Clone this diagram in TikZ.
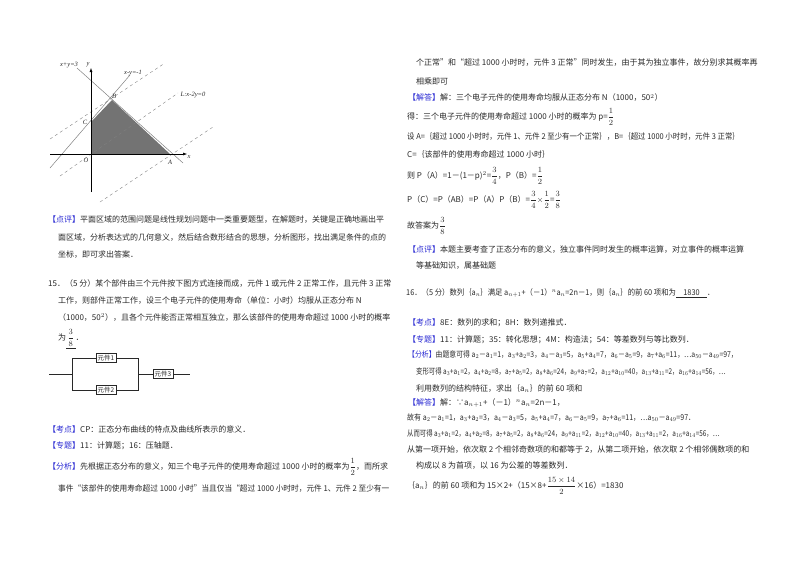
\documentclass[tikz,border=0pt]{standalone}
\usepackage{fontspec}
\usepackage{amsmath}
\setmainfont{Noto Sans CJK SC}
\newfontfamily\serf{Liberation Serif}
\usetikzlibrary{arrows.meta}
\definecolor{tagblue}{RGB}{40,40,210}
\definecolor{txt}{RGB}{40,40,40}
\newcommand{\tg}[1]{\textcolor{tagblue}{【#1】}}
\newcommand{\fr}[2]{$\dfrac{#1}{#2}$}
\begin{document}
\begin{tikzpicture}[x=1pt,y=-1pt,
  t/.style={anchor=west,inner sep=0pt,font=\fontsize{8}{10}\selectfont,text=txt},
  nar/.style={xscale=#1,transform shape},
  lbl/.style={inner sep=0pt,font=\serf\itshape\fontsize{6.5}{7}\selectfont,text=txt},
  comp/.style={draw=txt,inner sep=1.5pt,font=\fontsize{6.5}{7}\selectfont,text=txt,minimum height=9pt},
  wire/.style={draw=txt,line width=0.5pt},
  dsh/.style={draw=gray,dashed,line width=0.4pt}]
\path[use as bounding box] (0,0) rectangle (800,565);
% graph
\fill[black!55] (91,154) coordinate (O) -- (91,122) coordinate (C) -- (112,100) coordinate (B) -- (170,154) coordinate (A) -- cycle;
\draw[dsh] (50,139) -- (165,63);
\draw[dsh] (60,176) -- (178,93);
\draw[dsh] (100,202) -- (213,127);
\draw[gray,line width=0.5pt] (77,68) -- (183,163);
\draw[gray,line width=0.5pt] (50,168) -- (130,75);
\draw[-{Latex[length=4pt]},line width=0.5pt] (91,192) -- (91,68);
\draw[-{Latex[length=4pt]},line width=0.5pt] (50,154) -- (187,154);
\node[lbl] (l1) at (69,65) {x+y=3};
\node[lbl] (ly) at (88,65) {y};
\node[lbl] (l2) at (133,73) {x-y=-1};
\node[lbl] (l3) at (193,95) {L:x-2y=0};
\node[lbl] (lx) at (189,157) {x};
\node[lbl] (lA) at (170,162) {A};
\node[lbl] (lO) at (86,160) {O};
\node[lbl] (lC) at (85,122) {C};
\node[lbl] (lB) at (114,96) {B};
% left column text
\node[t] (a1) at (48,220) {\tg{点评}平面区域的范围问题是线性规划问题中一类重要题型，在解题时，关键是正确地画出平};
\node[t] (a2) at (58,238) {面区域，分析表达式的几何意义，然后结合数形结合的思想，分析图形，找出满足条件的点的};
\node[t] (a3) at (58,255) {坐标，即可求出答案．};
\node[t] (a4) at (48,283) {15．（5 分）某个部件由三个元件按下图方式连接而成，元件 1 或元件 2 正常工作，且元件 3 正常};
\node[t] (a5) at (58,300) {工作，则部件正常工作，设三个电子元件的使用寿命（单位：小时）均服从正态分布 N};
\node[t] (a6) at (58,317) {（1000，50$^2$），且各个元件能否正常相互独立，那么该部件的使用寿命超过 1000 小时的概率};
\node[t] (a7) at (58,339) {为\underline{\,\fr{3}{8}\,}．};
% circuit
\node[comp] (c1) at (106,358) {元件1};
\node[comp] (c2) at (106,390) {元件2};
\node[comp] (c3) at (163,374) {元件3};
\coordinate (w0) at (49,374); \coordinate (wl) at (72,374);
\coordinate (wr) at (138,374); \coordinate (we) at (190,374);
\draw[wire] (w0) -- (wl) (wl |- c1) -- (wl |- c2);
\draw[wire] (wl |- c1) -- (c1.west) (c1.east) -- (wr |- c1) -- (wr |- c2) -- (c2.east);
\draw[wire] (wl |- c2) -- (c2.west);
\draw[wire] (wr) -- (c3.west) (c3.east) -- (we);
\node[t] (a8) at (48,429) {\tg{考点}CP：正态分布曲线的特点及曲线所表示的意义．};
\node[t] (a9) at (48,446) {\tg{专题}11：计算题；16：压轴题．};
\node[t] (a10) at (48,467) {\tg{分析}先根据正态分布的意义，知三个电子元件的使用寿命超过 1000 小时的概率为\fr{1}{2}，而所求};
\node[t,nar=0.96] (a11) at (58,489) {事件“该部件的使用寿命超过 1000 小时”当且仅当“超过 1000 小时时，元件 1、元件 2 至少有一};
% right column
\node[t] (b1) at (416,63) {个正常”和“超过 1000 小时时，元件 3 正常”同时发生，由于其为独立事件，故分别求其概率再};
\node[t] (b2) at (416,81) {相乘即可};
\node[t] (b3) at (408,98) {\tg{解答}解：三个电子元件的使用寿命均服从正态分布 N（1000，50$^2$）};
\node[t] (b4) at (407,117) {得：三个电子元件的使用寿命超过 1000 小时的概率为 p=\fr{1}{2}};
\node[t,nar=0.93] (b5) at (407,137) {设 A=｛超过 1000 小时时，元件 1、元件 2 至少有一个正常｝，B=｛超过 1000 小时时，元件 3 正常｝};
\node[t] (b6) at (407,154) {C=｛该部件的使用寿命超过 1000 小时｝};
\node[t] (b7) at (407,176) {则 P（A）=1－(1－p)$^2$=\fr{3}{4}，P（B）=\fr{1}{2}};
\node[t] (b8) at (407,200) {P（C）=P（AB）=P（A）P（B）=\fr{3}{4}$\times$\fr{1}{2}=\fr{3}{8}};
\node[t] (b9) at (407,226) {故答案为\fr{3}{8}};
\node[t] (b10) at (408,250) {\tg{点评}本题主要考查了正态分布的意义，独立事件同时发生的概率运算，对立事件的概率运算};
\node[t] (b11) at (416,266) {等基础知识，属基础题};
\node[t,nar=0.92] (b12) at (406,293) {16．（5 分）数列｛a$_n$｝满足 a$_{n+1}$+（－1）$^n$a$_n$=2n－1，则｛a$_n$｝的前 60 项和为\underline{\quad 1830\quad}．};
\node[t] (b13) at (408,323) {\tg{考点}8E：数列的求和；8H：数列递推式．};
\node[t] (b14) at (408,340) {\tg{专题}11：计算题；35：转化思想；4M：构造法；54：等差数列与等比数列．};
\node[t,nar=0.86] (b15) at (408,355) {\tg{分析}由题意可得 a$_2$－a$_1$=1，a$_3$+a$_2$=3，a$_4$－a$_3$=5，a$_5$+a$_4$=7，a$_6$－a$_5$=9，a$_7$+a$_6$=11，…a$_{50}$－a$_{49}$=97，};
\node[t,nar=0.8] (b16) at (416,372) {变形可得 a$_3$+a$_1$=2，a$_4$+a$_2$=8，a$_7$+a$_5$=2，a$_8$+a$_6$=24，a$_9$+a$_7$=2，a$_{12}$+a$_{10}$=40，a$_{13}$+a$_{11}$=2，a$_{16}$+a$_{14}$=56，…};
\node[t] (b17) at (416,389) {利用数列的结构特征，求出｛a$_n$｝的前 60 项和};
\node[t] (b18) at (408,403) {\tg{解答}解：∵a$_{n+1}$+（－1）$^n$a$_n$=2n－1，};
\node[t,nar=0.88] (b19) at (407,418) {故有 a$_2$－a$_1$=1，a$_3$+a$_2$=3，a$_4$－a$_3$=5，a$_5$+a$_4$=7，a$_6$－a$_5$=9，a$_7$+a$_6$=11，…a$_{50}$－a$_{49}$=97．};
\node[t,nar=0.8] (b20) at (407,434) {从而可得 a$_3$+a$_1$=2，a$_4$+a$_2$=8，a$_7$+a$_5$=2，a$_8$+a$_6$=24，a$_9$+a$_{11}$=2，a$_{12}$+a$_{10}$=40，a$_{13}$+a$_{11}$=2，a$_{16}$+a$_{14}$=56，…};
\node[t] (b21) at (407,450) {从第一项开始，依次取 2 个相邻奇数项的和都等于 2，从第二项开始，依次取 2 个相邻偶数项的和};
\node[t] (b22) at (416,466) {构成以 8 为首项，以 16 为公差的等差数列．};
\node[t] (b23) at (407,486) {｛a$_n$｝的前 60 项和为 15×2+（15×8+\fr{15\times14}{2}×16）=1830};
\end{tikzpicture}
\end{document}
